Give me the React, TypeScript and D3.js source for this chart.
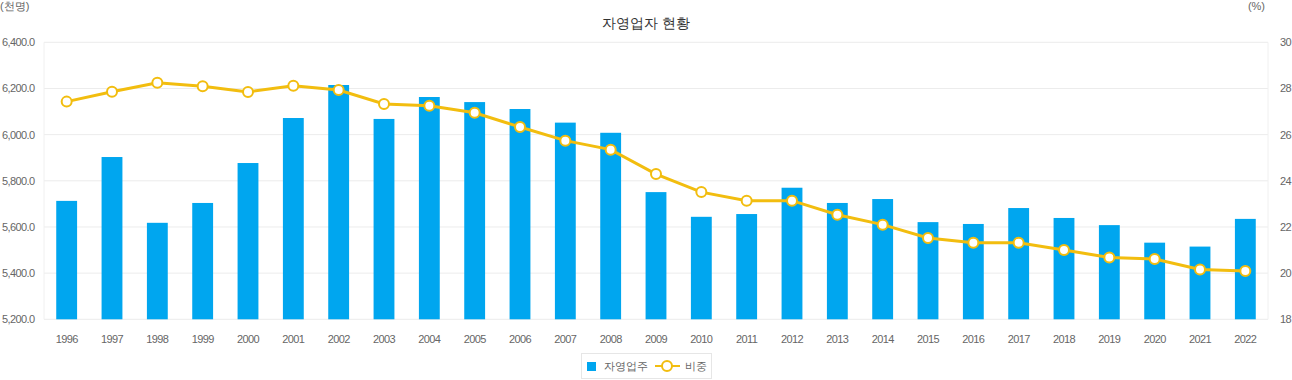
import React from "react";
import * as d3 from "d3";

const years = ["1996","1997","1998","1999","2000","2001","2002","2003","2004","2005","2006","2007","2008","2009","2010","2011","2012","2013","2014","2015","2016","2017","2018","2019","2020","2021","2022"];
const selfEmployed = [5713,5903,5618,5704,5877,6072,6215,6068,6163,6141,6111,6052,6008,5751,5644,5656,5770,5704,5721,5621,5613,5682,5639,5608,5532,5515,5635];
const share = [27.43,27.86,28.25,28.1,27.85,28.12,27.93,27.33,27.25,26.95,26.33,25.74,25.35,24.29,23.51,23.14,23.14,22.53,22.1,21.52,21.32,21.32,21.0,20.68,20.61,20.16,20.09];
const leftTicks = [5200,5400,5600,5800,6000,6200,6400];
const rightTicks = [18,20,22,24,26,28,30];

const W = 1292, H = 380;
const L = 44, R = 1268, T = 42.3, B = 319.3;
const BAR = "#00a6ef";
const LINE = "#f2bd0f";
const FONT = "'Liberation Sans', Arial, sans-serif";

export default function App() {
  const x = d3.scaleBand<string>().domain(years).range([L, R]).paddingInner(0.54).paddingOuter(0.27);
  const xc = (d: string) => (x(d) as number) + x.bandwidth() / 2;
  const yL = d3.scaleLinear().domain([5200, 6400]).range([B, T]);
  const yR = d3.scaleLinear().domain([18, 30]).range([B, T]);
  const line = d3.line<number>().x((_, i) => xc(years[i])).y((d) => yR(d));
  const fmt = d3.format(",.1f");

  return (
    <svg width={W} height={H} style={{ position: "absolute", left: 0, top: 0, background: "#fff" }} fontFamily={FONT}>
      <text x={646} y={28} textAnchor="middle" fontSize={14} fill="#333">자영업자 현황</text>
      <text x={0} y={10} fontSize={11} fill="#666">(천명)</text>
      <text x={1265} y={10} fontSize={11} fill="#666" textAnchor="end">(%)</text>
      {leftTicks.map((t) => (
        <g key={t}>
          <line x1={L} x2={R} y1={yL(t)} y2={yL(t)} stroke="#ececec" strokeWidth={1} />
          <text x={2} y={yL(t) + 4} fontSize={11} fill="#666" letterSpacing={-0.6}>{fmt(t)}</text>
        </g>
      ))}
      <line x1={L} x2={L} y1={T} y2={B} stroke="#f0f0f0" />
      <line x1={R} x2={R} y1={T} y2={B} stroke="#f0f0f0" />
      {rightTicks.map((t) => (
        <text key={t} x={1280} y={yR(t) + 4} fontSize={11} fill="#666" letterSpacing={-0.6}>{t}</text>
      ))}
      {years.map((yr, i) => (
        <g key={yr}>
          <rect x={x(yr)} y={yL(selfEmployed[i])} width={x.bandwidth()} height={B - yL(selfEmployed[i])} fill={BAR} />
          <text x={xc(yr)} y={343} textAnchor="middle" fontSize={11} fill="#666" letterSpacing={-0.6}>{yr}</text>
        </g>
      ))}
      <path d={line(share) || ""} fill="none" stroke={LINE} strokeWidth={3} />
      {share.map((v, i) => (
        <circle key={i} cx={xc(years[i])} cy={yR(v)} r={5} fill="#fff" stroke={LINE} strokeWidth={2} />
      ))}
      <g>
        <rect x={581.5} y={353.5} width={130} height={25} fill="#fff" stroke="#e6e6e6" />
        <rect x={587} y={362} width={9} height={9} fill={BAR} />
        <text x={604} y={370} fontSize={11} fill="#666">자영업주</text>
        <line x1={655} x2={680} y1={366} y2={366} stroke={LINE} strokeWidth={2} />
        <circle cx={667} cy={366} r={5} fill="#fff" stroke={LINE} strokeWidth={2} />
        <text x={685} y={370} fontSize={11} fill="#666">비중</text>
      </g>
    </svg>
  );
}
